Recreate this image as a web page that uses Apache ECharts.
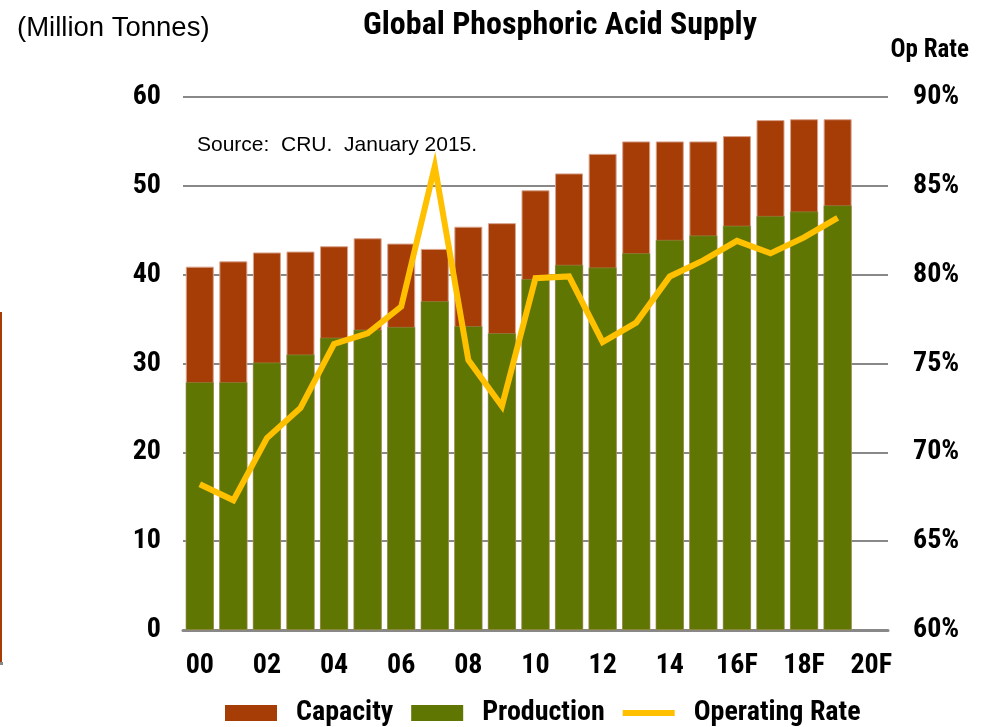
<!DOCTYPE html>
<html><head><meta charset="utf-8">
<script src="https://cdn.jsdelivr.net/npm/echarts@6/dist/echarts.min.js"></script>
<style>html,body{margin:0;padding:0;background:#fff}#c{width:985px;height:727px}</style>
</head><body><div id="c"></div>
<script>
const categories = ['00','01','02','03','04','05','06','07','08','09','10','11','12','13','14','15','16F','17F','18F','19F','20F'];
const capacity = [40.9,41.5,42.5,42.6,43.2,44.1,43.5,42.9,45.4,45.8,49.5,51.4,53.6,55.0,55.0,55.0,55.6,57.4,57.5,57.5,null];
const production = [27.9,27.9,30.1,31.0,32.9,33.8,34.1,37.0,34.2,33.4,39.5,41.1,40.8,42.4,43.9,44.4,45.5,46.6,47.1,47.8,null];
const operatingRate = [68.2,67.3,70.8,72.5,76.1,76.7,78.2,86.1,75.2,72.6,79.8,79.9,76.2,77.3,79.9,80.8,81.9,81.2,82.1,83.2,null];
const leftTicks = [0,10,20,30,40,50,60];
const rightTicks = [60,65,70,75,80,85,90];

const NARROW = "'Liberation Sans Narrow','Arial Narrow','Roboto Condensed',Arial,sans-serif";
const REG = "'Liberation Sans',Arial,sans-serif";
const chart = echarts.init(document.getElementById('c'));
chart.setOption({
  animation: false,
  backgroundColor: '#fff',
  title: [
    {text: 'Global Phosphoric Acid Supply', left: 555, top: 5, textAlign: 'center',
     textStyle: {fontFamily: NARROW, fontWeight: 'bold', fontSize: 32, color: '#000'}},
    {text: '(Million Tonnes)', left: 12, top: 9,
     textStyle: {fontFamily: REG, fontWeight: 'normal', fontSize: 27.5, color: '#000'}},
    {text: 'Op Rate', left: 964, top: 33, textAlign: 'right',
     textStyle: {fontFamily: NARROW, fontWeight: 'bold', fontSize: 25, color: '#000'}},
    {text: 'Source:  CRU.  January 2015.', left: 192, top: 130,
     textStyle: {fontFamily: REG, fontWeight: 'normal', fontSize: 21, color: '#000'}}
  ],
  graphic: [
    {type: 'rect', shape: {x: 0, y: 312, width: 2, height: 352}, style: {fill: '#a63c06'}},
    {type: 'rect', shape: {x: 0, y: 662, width: 3, height: 3}, style: {fill: '#888'}}
  ],
  legend: {
    top: 699, left: 225, itemGap: 18, padding: 0,
    itemWidth: 52, itemHeight: 16,
    textStyle: {fontFamily: NARROW, fontWeight: 'bold', fontSize: 28, color: '#000', padding: [0,0,0,14]},
    itemStyle: {borderWidth: 0},
    data: [
      {name: 'Capacity', icon: 'rect'},
      {name: 'Production', icon: 'rect'},
      {name: 'Operating Rate', icon: 'path://M0,0 L52,0 L52,6 L0,6 Z'}
    ]
  },
  grid: {left: 183, right: 97, top: 97, bottom: 97, containLabel: false},
  xAxis: {
    type: 'category', data: categories,
    axisLine: {lineStyle: {color: '#888', width: 3}},
    axisTick: {show: false},
    axisLabel: {interval: 1, margin: 22, fontFamily: NARROW, fontWeight: 'bold', fontSize: 28, color: '#000'}
  },
  yAxis: [
    {type: 'value', min: leftTicks[0], max: leftTicks[leftTicks.length-1], interval: 10,
     axisLine: {show: false}, axisTick: {show: false},
     splitLine: {lineStyle: {color: '#888', width: 2}},
     axisLabel: {margin: 22, fontFamily: NARROW, fontWeight: 'bold', fontSize: 28, color: '#000'}},
    {type: 'value', min: rightTicks[0], max: rightTicks[rightTicks.length-1], interval: 5,
     axisLine: {show: false}, axisTick: {show: false}, splitLine: {show: false},
     axisLabel: {margin: 25, formatter: '{value}%', fontFamily: NARROW, fontWeight: 'bold', fontSize: 28, color: '#000'}}
  ],
  series: [
    {name: 'Capacity', type: 'bar', data: capacity, barWidth: 28, barGap: '-100%', z: 2,
     itemStyle: {color: '#a63c06', borderColor: '#d8a48c', borderWidth: 1}},
    {name: 'Production', type: 'bar', data: production, barWidth: 28, barGap: '-100%', z: 3,
     itemStyle: {color: '#5f7602', borderColor: '#a09060', borderWidth: 0.5}},
    {name: 'Operating Rate', type: 'line', yAxisIndex: 1, data: operatingRate, z: 5,
     showSymbol: false, symbol: 'none',
     lineStyle: {color: '#ffc000', width: 6, join: 'miter'}, itemStyle: {color: '#ffc000'}}
  ]
});
</script></body></html>
